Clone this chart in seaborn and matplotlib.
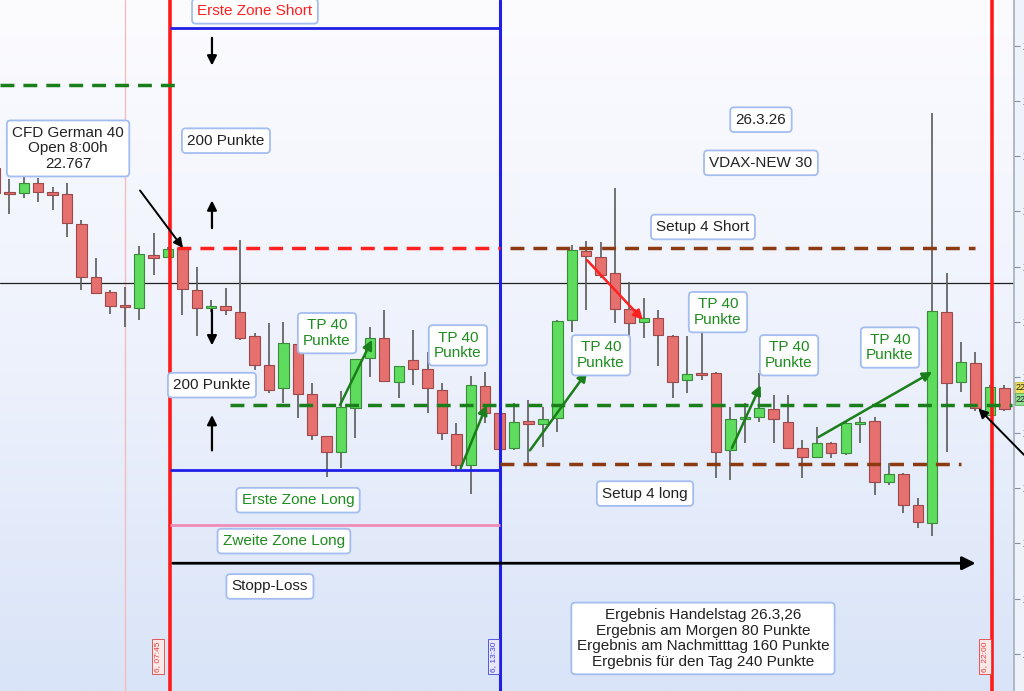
import numpy as np
import pandas as pd
import matplotlib
matplotlib.use("Agg")
import matplotlib.pyplot as plt
from matplotlib.colors import LinearSegmentedColormap
import seaborn as sns

# 15-Minuten-Kerzen CFD German 40, Index 0 = 07:45
kerze = list(range(-12, 59))
eroeffnung = [22839, 22817, 22817, 22826, 22818, 22816, 22789, 22741, 22727, 22715, 22713, 22761,
              22759, 22767, 22729, 22713, 22715, 22709, 22687, 22661, 22640, 22680, 22635, 22597,
              22583, 22622, 22668, 22686, 22646, 22666, 22658, 22639, 22599, 22571, 22642, 22618,
              22586, 22611, 22608, 22613, 22702, 22764, 22759, 22744, 22712, 22700, 22704, 22687,
              22648, 22654, 22654, 22584, 22612, 22614, 22621, 22610, 22586, 22578, 22591, 22582,
              22608, 22611, 22555, 22563, 22535, 22518, 22709, 22646, 22663, 22616, 22640]
hoch = [22842, 22829, 22831, 22830, 22822, 22826, 22792, 22758, 22729, 22732, 22769, 22781,
        22768, 22767, 22750, 22720, 22731, 22774, 22690, 22699, 22700, 22693, 22645, 22597,
        22638, 22667, 22696, 22711, 22660, 22693, 22673, 22645, 22609, 22651, 22655, 22625,
        22627, 22630, 22623, 22702, 22770, 22773, 22772, 22821, 22736, 22722, 22711, 22688,
        22687, 22697, 22655, 22623, 22627, 22654, 22634, 22634, 22593, 22605, 22592, 22611,
        22614, 22614, 22573, 22564, 22541, 22889, 22744, 22682, 22673, 22643, 22643]
tief = [22814, 22798, 22812, 22809, 22801, 22777, 22729, 22725, 22707, 22696, 22702, 22743,
        22758, 22706, 22687, 22709, 22706, 22684, 22657, 22636, 22627, 22613, 22593, 22560,
        22568, 22595, 22650, 22646, 22631, 22643, 22618, 22593, 22566, 22545, 22609, 22583,
        22584, 22573, 22587, 22601, 22691, 22711, 22740, 22699, 22654, 22686, 22660, 22631,
        22636, 22648, 22559, 22557, 22591, 22610, 22591, 22585, 22559, 22577, 22577, 22580,
        22591, 22544, 22553, 22527, 22514, 22507, 22583, 22637, 22620, 22615, 22620]
schluss = [22817, 22816, 22826, 22818, 22815, 22790, 22741, 22726, 22715, 22714, 22762, 22758,
           22766, 22730, 22713, 22715, 22711, 22686, 22661, 22639, 22681, 22635, 22598, 22583,
           22623, 22667, 22686, 22647, 22660, 22658, 22640, 22600, 22571, 22643, 22618, 22585,
           22610, 22608, 22612, 22701, 22765, 22760, 22743, 22712, 22699, 22704, 22688, 22646,
           22653, 22652, 22583, 22612, 22614, 22622, 22612, 22586, 22578, 22591, 22582, 22609,
           22610, 22555, 22563, 22535, 22519, 22710, 22645, 22664, 22622, 22641, 22621]

# Niveaus
open_8uhr = 22767
erste_zone_short = 22966
erste_zone_long = 22566
zweite_zone_long = 22517
stopp_loss = 22482
setup4_short = 22767
setup4_long = 22572
gruen_mitte = 22625
gruen_oben = 22914
fadenkreuz = 22735

df = pd.DataFrame({"i": kerze, "o": eroeffnung, "h": hoch, "l": tief, "c": schluss})

sns.set_theme(style="white")
plt.rcParams["font.family"] = ["Liberation Sans", "DejaVu Sans"]

fig = plt.figure(figsize=(10.24, 6.91), dpi=100)
ax = fig.add_axes([0, 0, 1014 / 1024, 1])
x0, x1 = -11.65, 58.67
y0, y1 = 22366.5, 22991.2

# Hintergrund-Verlauf
cmap = LinearSegmentedColormap.from_list("bg", ["#fcfcff", "#eef2fc", "#d9e4f8"])
grad = np.linspace(0, 1, 256).reshape(-1, 1)
ax.imshow(grad, extent=[x0, x1, y0, y1], aspect="auto", cmap=cmap, origin="upper", zorder=0)

# Kerzen
steigend = df["c"] >= df["o"]
unten = np.minimum(df["o"], df["c"])
koerper = np.maximum((df["c"] - df["o"]).abs(), 1.8)
ax.vlines(df["i"], df["l"], df["h"], color="#5a5a5a", lw=1.2, zorder=3)
ax.bar(df["i"][steigend], koerper[steigend], bottom=unten[steigend], width=0.72,
       color="#5ddc5d", edgecolor="#3a8a3a", lw=0.8, zorder=4)
ax.bar(df["i"][~steigend], koerper[~steigend], bottom=unten[~steigend], width=0.72,
       color="#e6706e", edgecolor="#9a4a4a", lw=0.8, zorder=4)

# Vertikale Zeitlinien
ax.axvline(-2.98, color="#f5bcbc", lw=1, zorder=2)
ax.axvline(0.14, color="#ff1a1a", lw=2.6, zorder=5)
ax.axvline(23.0, color="#1f1fe6", lw=2.2, zorder=5)
ax.axvline(57.14, color="#ff1a1a", lw=2.6, zorder=5)
ax.axhline(fadenkreuz, color="#222222", lw=0.9, zorder=2)

# Zonen
ax.hlines(erste_zone_short, 0.14, 23, color="#1f1fe6", lw=2, zorder=5)
ax.hlines(erste_zone_long, 0.14, 23, color="#1f1fe6", lw=2, zorder=5)
ax.hlines(zweite_zone_long, 0.14, 23, color="#f08cb8", lw=2, zorder=5)
dash = dict(lw=2.5, linestyles=(0, (4, 2.6)), zorder=6)
ax.hlines(gruen_oben, x0, 0.5, color="#1a7f1a", **dash)
ax.hlines(open_8uhr, 0.6, 23, color="#ff2020", **dash)
ax.hlines(setup4_short, 23.7, 56.0, color="#8b3a12", **dash)
ax.hlines(setup4_long, 23.0, 55.0, color="#8b3a12", **dash)
ax.hlines(gruen_mitte, 4.3, 58.5, color="#1a7f1a", **dash)
ax.annotate("", xy=(56.2, stopp_loss), xytext=(0.14, stopp_loss),
            arrowprops=dict(arrowstyle="-|>", color="black", lw=2, mutation_scale=20), zorder=6)


def pfeil(start, ende, farbe="black", lw=1.6, ms=14):
    ax.annotate("", xy=ende, xytext=start, annotation_clip=False,
                arrowprops=dict(arrowstyle="-|>", color=farbe, lw=lw, mutation_scale=ms,
                                shrinkA=0, shrinkB=0), zorder=7)


# Pfeile
pfeil((3.05, 22957), (3.05, 22932))
pfeil((3.05, 22785), (3.05, 22810))
pfeil((3.05, 22711), (3.05, 22679))
pfeil((3.05, 22584), (3.05, 22616))
pfeil((-1.94, 22819), (1.04, 22767), lw=1.4)
pfeil((59.36, 22580), (56.2, 22622), lw=1.4)
pfeil((11.93, 22625), (14.15, 22684), farbe="#1a7f1a", lw=1.8)
pfeil((20.3, 22568), (22.1, 22625), farbe="#1a7f1a", lw=1.8)
pfeil((25.1, 22584), (29.06, 22655), farbe="#1a7f1a", lw=1.8)
pfeil((39.1, 22586), (41.1, 22643), farbe="#1a7f1a", lw=1.8)
pfeil((45.1, 22596), (53.0, 22655), farbe="#1a7f1a", lw=1.8)
pfeil((29.06, 22756), (32.94, 22702), farbe="#ff2020", lw=1.8)

# Textboxen
box = dict(boxstyle="round,pad=0.35,rounding_size=0.25", fc="white", ec="#a3bdf0", lw=1.3)
gruen = "#1e8c1e"
texte = [
    ("Erste Zone Short", 6.03, 22981, "#ff2020"),
    ("CFD German 40\nOpen 8:00h\n22.767", -6.93, 22857, "#222222"),
    ("200 Punkte", 4.02, 22864, "#222222"),
    ("200 Punkte", 3.05, 22643, "#222222"),
    ("TP 40\nPunkte", 11.03, 22690, gruen),
    ("TP 40\nPunkte", 20.11, 22679, gruen),
    ("TP 40\nPunkte", 30.03, 22670, gruen),
    ("TP 40\nPunkte", 38.14, 22709, gruen),
    ("TP 40\nPunkte", 43.07, 22670, gruen),
    ("TP 40\nPunkte", 50.07, 22677, gruen),
    ("26.3.26", 41.12, 22883, "#222222"),
    ("VDAX-NEW 30", 41.12, 22844, "#222222"),
    ("Setup 4 Short", 37.1, 22786, "#222222"),
    ("Erste Zone Long", 9.02, 22539, gruen),
    ("Zweite Zone Long", 8.04, 22502, gruen),
    ("Stopp-Loss", 7.07, 22461, "#222222"),
    ("Setup 4 long", 33.08, 22545, "#222222"),
    ("Ergebnis Handelstag 26.3,26\nErgebnis am Morgen 80 Punkte\n"
     "Ergebnis am Nachmitttag 160 Punkte\nErgebnis für den Tag 240 Punkte", 37.1, 22414, "#222222"),
]
for txt, xx, yy, col in texte:
    ax.text(xx, yy, txt, color=col, fontsize=11, ha="center", va="center",
            linespacing=1.15, bbox=box, zorder=8)

# Zeitmarken unten
trans = ax.get_xaxis_transform()
for xx, txt, col, fc in [(-0.69, "6, 07:45", "#e04040", "#fde8e8"),
                          (22.6, "6, 13:30", "#4040e0", "#e8e8fd"),
                          (56.66, "6, 22:00", "#e04040", "#fde8e8")]:
    ax.text(xx, 0.072, txt, transform=trans, rotation=90, ha="center", va="top",
            fontsize=6, color=col, bbox=dict(boxstyle="square,pad=0.25", fc=fc, ec=col, lw=0.6),
            zorder=8, clip_on=False)

# Kursmarken rechts
fig.text(1016 / 1024, 1 - 388 / 691, "22.641", fontsize=6.5, va="center", ha="left",
         bbox=dict(boxstyle="square,pad=0.15", fc="#f0e060", ec="#c0b030", lw=0.5))
fig.text(1016 / 1024, 1 - 399 / 691, "22.625", fontsize=6.5, va="center", ha="left",
         bbox=dict(boxstyle="square,pad=0.15", fc="#90e090", ec="#50a050", lw=0.5))

ax.set_xlim(x0, x1)
ax.set_ylim(y0, y1)
ax.set_xticks([])
ticks = np.arange(22400, 22951, 50)
ax.yaxis.tick_right()
ax.set_yticks(ticks)
ax.set_yticklabels([f"{t / 1000:.3f}" for t in ticks], fontsize=8, color="#333333")
ax.tick_params(axis="y", length=4, width=0.8, color="#8890a0", pad=2, right=True)
for s in ["left", "top", "bottom"]:
    ax.spines[s].set_visible(False)
ax.spines["right"].set_color("#a8b0c0")
fig.patch.set_facecolor("#eef2fb")

plt.savefig("out.png", dpi=100)
